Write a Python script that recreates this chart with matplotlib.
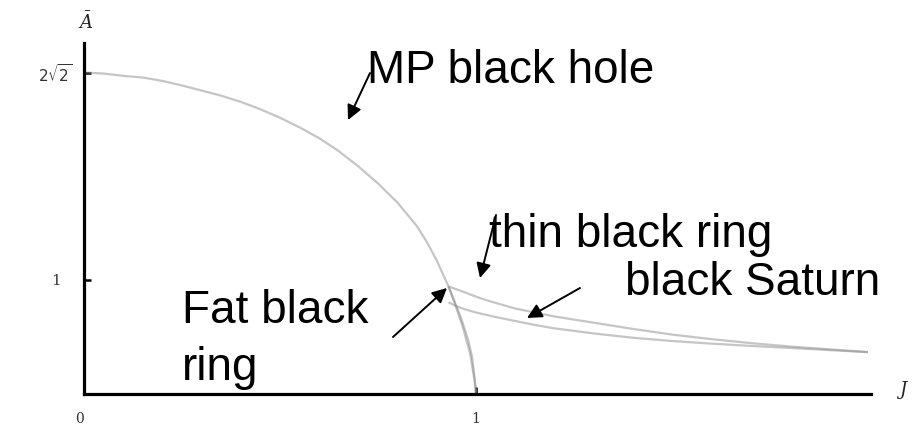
import numpy as np
import matplotlib
matplotlib.use('Agg')
import matplotlib.pyplot as plt
from matplotlib.transforms import ScaledTranslation

# area vs. angular momentum
mp_j = [0.0, 0.05, 0.1, 0.15, 0.2, 0.25, 0.3, 0.35, 0.4, 0.45, 0.5, 0.55, 0.6,
        0.65, 0.7, 0.75, 0.8, 0.85, 0.875, 0.9, 0.93, 0.96, 0.98, 0.99, 0.997, 1.0]
mp_a = [2.83, 2.82, 2.80, 2.785, 2.755, 2.715, 2.67, 2.625, 2.57, 2.505, 2.43, 2.345, 2.25,
        2.135, 2.00, 1.85, 1.68, 1.47, 1.33, 1.17, 0.94, 0.68, 0.47, 0.32, 0.12, 0.0]

thin_j = [0.93, 0.95, 0.97, 1.0, 1.03, 1.06, 1.1, 1.15, 1.2, 1.3, 1.4, 1.5, 1.6, 1.7, 1.8, 1.9, 2.0]
thin_a = [0.94, 0.915, 0.89, 0.85, 0.815, 0.785, 0.745, 0.71, 0.675, 0.62, 0.565, 0.515, 0.475, 0.44, 0.41, 0.385, 0.36]

fat_j = [0.93, 0.945, 0.965, 0.985, 0.997, 1.0]
fat_a = [0.94, 0.80, 0.60, 0.35, 0.10, 0.0]

saturn_j = [0.93, 0.95, 0.97, 1.0, 1.05, 1.1, 1.15, 1.2, 1.3, 1.4, 1.5, 1.6, 1.7, 1.8, 1.9, 2.0]
saturn_a = [0.80, 0.765, 0.74, 0.71, 0.67, 0.635, 0.60, 0.57, 0.525, 0.487, 0.458, 0.435, 0.415, 0.397, 0.378, 0.36]

W, H = 915, 433


def px(x, y):
    # figure pixels measured from the top-left corner
    return (x, H - y)


fig = plt.figure(figsize=(W / 100, H / 100), dpi=100)
ax = fig.add_axes([84 / W, 39 / H, 787 / W, 351 / H])

line_kw = dict(color='0.55', alpha=0.5, lw=1.6, solid_capstyle='butt')
ax.plot(mp_j, mp_a, **line_kw)
ax.plot(thin_j, thin_a, **line_kw)
ax.plot(fat_j, fat_a, **line_kw)
ax.plot(saturn_j, saturn_a, **line_kw)

ax.set_xlim(0, 2.008)
ax.set_ylim(-0.01, 3.09)

for side in ['top', 'right']:
    ax.spines[side].set_visible(False)
for side in ['left', 'bottom']:
    ax.spines[side].set_linewidth(2.3)
    ax.spines[side].set_color('black')

plt.rcParams['mathtext.fontset'] = 'dejavuserif'
ax.set_yticks([1, 2 * np.sqrt(2)])
ax.set_yticklabels(['1', r'$2\sqrt{2}$'])
ax.set_xticks([0, 1])
ax.set_xticklabels(['0', '1'])
ax.tick_params(axis='y', direction='in', length=5, width=1.8, pad=8,
               labelsize=11, labelcolor='#333333')
ax.tick_params(axis='x', direction='in', length=5, width=1.8, pad=13,
               labelsize=10, labelcolor='#333333')
for lab in ax.get_yticklabels() + ax.get_xticklabels():
    lab.set_family('DejaVu Serif')
ylabs = ax.get_yticklabels()
ylabs[0].set_transform(ylabs[0].get_transform() +
                       ScaledTranslation(-12 / 100, 0, fig.dpi_scale_trans))
xlabs = ax.get_xticklabels()
xlabs[0].set_transform(xlabs[0].get_transform() +
                       ScaledTranslation(-4 / 100, 0, fig.dpi_scale_trans))

# axis names
fig.text(86 / W, 1 - 22 / H, r'$\bar{A}$', ha='center', va='center',
         fontsize=13, color='#222222', family='DejaVu Serif')
fig.text(903 / W, 1 - 390 / H, r'$J$', ha='center', va='center',
         fontsize=13, color='#222222', family='DejaVu Serif')

# labels with arrows
txt_kw = dict(fontsize=33, family='Liberation Sans', color='black',
              ha='left', va='baseline')
fig.text(367 / W, 1 - 83 / H, 'MP black hole', **txt_kw)
fig.text(489 / W, 1 - 247 / H, 'thin black ring', **txt_kw)
fig.text(625 / W, 1 - 295 / H, 'black Saturn', **txt_kw)
fig.text(182 / W, 1 - 323 / H, 'Fat black', **txt_kw)
fig.text(182 / W, 1 - 380 / H, 'ring', **txt_kw)

arrow_kw = dict(arrowstyle='-|>', color='black', lw=1.4,
                mutation_scale=22, shrinkA=0, shrinkB=0)
arrows = [((370, 73), (348, 120)),
          ((496, 215), (480, 278)),
          ((580, 288), (527, 318)),
          ((393, 337), (447, 288))]
for tail, tip in arrows:
    ax.annotate('', xy=px(*tip), xycoords='figure pixels',
                xytext=px(*tail), textcoords='figure pixels',
                arrowprops=arrow_kw)

fig.savefig('out.png', dpi=100)
